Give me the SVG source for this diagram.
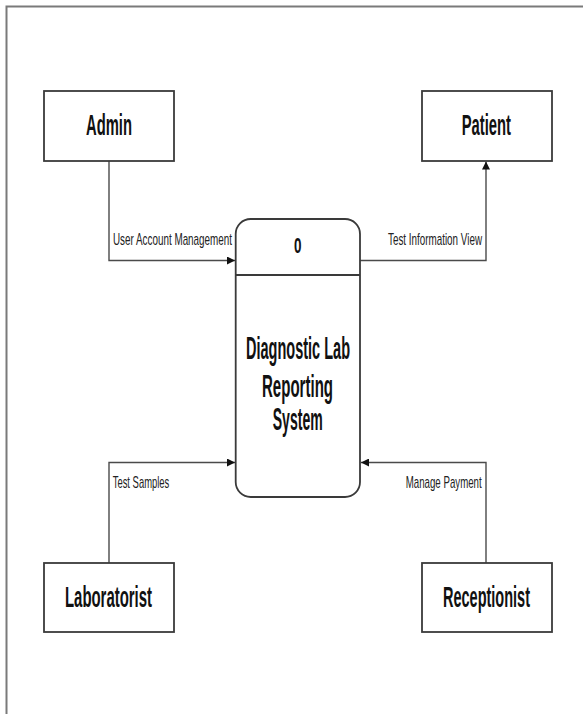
<svg xmlns="http://www.w3.org/2000/svg" width="583" height="714" viewBox="0 0 583 714">
<style>
.frame{fill:none;stroke:#7a7a7a;stroke-width:2}
.box{fill:#fff;stroke:#3a3a3a;stroke-width:1.8}
.conn{fill:none;stroke:#4a4a4a;stroke-width:1.4}
.nl{font-family:"Liberation Sans",Arial,sans-serif;font-weight:bold;font-size:29px;fill:#111}
.pl{font-family:"Liberation Sans",Arial,sans-serif;font-weight:bold;font-size:32px;fill:#111}
.el{font-family:"Liberation Sans",Arial,sans-serif;font-size:17px;fill:#222}
</style>
<defs>
<marker id="arr" viewBox="0 0 10 10" refX="10" refY="5" markerWidth="8" markerHeight="8" markerUnits="userSpaceOnUse" orient="auto">
<path d="M0,0 L10,5 L0,10 z" fill="#111"/>
</marker>
</defs>
<rect width="583" height="714" fill="#fff"/>
<path class="frame" d="M6.5,714 L6.5,6.5 L583,6.5"/>
<g id="connectors">
<path class="conn" d="M109,161 L109,260.5 L235,260.5" marker-end="url(#arr)"/>
<text class="el" x="113" y="245" textLength="119" lengthAdjust="spacingAndGlyphs">User Account Management</text>
<path class="conn" d="M360,260.5 L486,260.5 L486,161.5" marker-end="url(#arr)"/>
<text class="el" x="388" y="245" textLength="94" lengthAdjust="spacingAndGlyphs">Test Information View</text>
<path class="conn" d="M109,563 L109,462.5 L235,462.5" marker-end="url(#arr)"/>
<text class="el" x="112.7" y="488" textLength="56.6" lengthAdjust="spacingAndGlyphs">Test Samples</text>
<path class="conn" d="M486,563 L486,462.5 L361,462.5" marker-end="url(#arr)"/>
<text class="el" x="405.7" y="488" textLength="76" lengthAdjust="spacingAndGlyphs">Manage Payment</text>
</g>
<g id="admin">
<rect class="box" x="44" y="91" width="130" height="70"/>
<text class="nl" x="86" y="135" textLength="46" lengthAdjust="spacingAndGlyphs">Admin</text>
</g>
<g id="patient">
<rect class="box" x="422" y="91" width="130" height="70"/>
<text class="nl" x="461.7" y="135" textLength="49.3" lengthAdjust="spacingAndGlyphs">Patient</text>
</g>
<g id="laboratorist">
<rect class="box" x="44" y="563" width="130" height="69"/>
<text class="nl" x="65" y="606.7" textLength="87" lengthAdjust="spacingAndGlyphs">Laboratorist</text>
</g>
<g id="receptionist">
<rect class="box" x="422" y="563" width="130" height="69"/>
<text class="nl" x="443" y="606.7" textLength="87" lengthAdjust="spacingAndGlyphs">Receptionist</text>
</g>
<g id="process">
<rect class="box" x="235.7" y="219" width="124.3" height="278" rx="15" ry="15"/>
<line class="box" x1="235.7" y1="275" x2="360" y2="275"/>
<text class="nl" x="294" y="253" style="font-size:22px" textLength="7.5" lengthAdjust="spacingAndGlyphs">0</text>
<text class="pl" x="246" y="359" textLength="104" lengthAdjust="spacingAndGlyphs">Diagnostic Lab</text>
<text class="pl" x="262" y="396.7" textLength="71" lengthAdjust="spacingAndGlyphs">Reporting</text>
<text class="pl" x="272.7" y="430" textLength="50" lengthAdjust="spacingAndGlyphs">System</text>
</g>
</svg>
